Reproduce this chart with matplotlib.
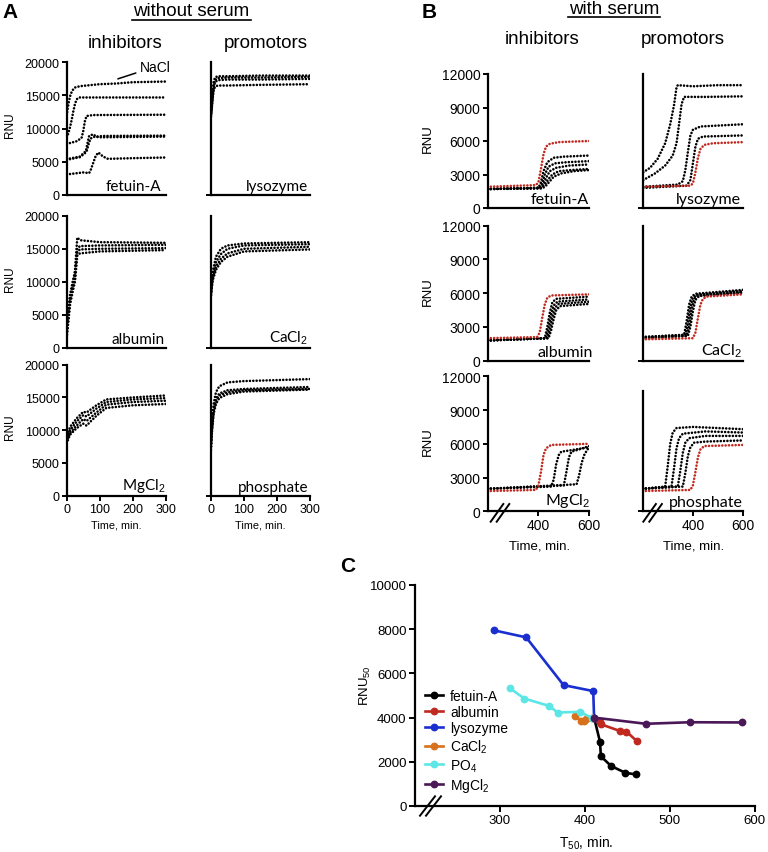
import matplotlib.pyplot as plt
from matplotlib.lines import Line2D

plt.rcParams['font.family'] = ['Liberation Sans', 'DejaVu Sans']
plt.rcParams['mathtext.fontset'] = 'custom'
plt.rcParams['mathtext.rm'] = 'Liberation Sans'
plt.rcParams['mathtext.it'] = 'Liberation Sans:italic'
plt.rcParams['mathtext.bf'] = 'Liberation Sans:bold'

# ---------------- A: without serum (time 0-300 min) ----------------
a_fetuin_t = [
    [0, 3, 7, 12, 18, 25, 40, 60, 100, 150, 200, 300],
    [0, 5, 10, 15, 20, 25, 30, 35, 40, 300],
    [0, 30, 45, 50, 55, 60, 80, 300],
    [0, 40, 58, 63, 68, 80, 90, 110, 300],
    [0, 40, 60, 66, 72, 85, 100, 300],
    [0, 50, 68, 73, 80, 88, 96, 110, 125, 200, 300],
]
a_fetuin_rnu = [
    [12000, 13000, 14200, 15200, 15800, 16200, 16400, 16500, 16700, 16800, 17000, 17100],
    [8700, 9300, 10200, 11300, 12600, 13700, 14400, 14650, 14700, 14700],
    [7700, 8100, 8600, 9600, 11100, 11900, 12050, 12100],
    [5400, 5800, 6600, 7800, 8900, 9150, 8800, 8900, 8950],
    [5300, 5700, 6500, 7600, 8500, 8800, 8700, 8800],
    [3100, 3400, 3300, 3800, 4800, 5900, 6400, 5800, 5450, 5550, 5650],
]

a_lyso_t = [0, 2, 5, 8, 12, 20, 50, 150, 300]
a_lyso_rnu = [
    [12500, 13500, 15500, 17000, 17700, 17900, 17900, 18000, 18000],
    [12000, 13000, 15000, 16500, 17300, 17600, 17700, 17700, 17800],
    [11800, 12800, 14500, 16000, 17000, 17300, 17400, 17400, 17500],
    [12200, 13200, 14800, 15800, 16300, 16500, 16500, 16600, 16700],
]

a_alb_t = [0, 5, 10, 18, 25, 32, 40, 100, 300]
a_alb_rnu = [
    [2500, 5000, 7500, 9500, 11500, 16700, 16300, 16000, 15900],
    [3000, 5500, 8000, 10000, 11500, 15000, 15400, 15500, 15600],
    [2000, 4500, 7000, 9000, 10500, 14500, 14900, 15000, 15100],
    [1500, 4000, 6500, 8500, 10000, 14000, 14300, 14600, 14800],
]

a_ca_t = [0, 5, 15, 30, 50, 100, 300]
a_ca_rnu = [
    [8500, 11500, 13800, 15000, 15500, 15800, 16000],
    [8000, 11000, 13000, 14200, 15000, 15500, 15700],
    [8200, 10500, 12300, 13500, 14300, 15000, 15300],
    [8000, 10200, 11800, 13000, 13800, 14600, 14900],
]

a_mg_t = [0, 10, 30, 50, 60, 90, 120, 200, 300]
a_mg_rnu = [
    [8800, 10500, 11800, 12800, 12700, 13800, 14700, 15000, 15300],
    [8500, 10000, 11300, 12300, 12100, 13300, 14300, 14700, 14900],
    [8300, 9600, 10700, 11700, 11400, 12700, 13900, 14300, 14500],
    [8000, 9300, 10300, 11000, 10700, 12200, 13400, 13800, 14000],
]

a_po4_t = [0, 3, 8, 15, 25, 50, 100, 300]
a_po4_rnu = [
    [7500, 11000, 14000, 15800, 16700, 17300, 17500, 17800],
    [7000, 10000, 13000, 14800, 15600, 16100, 16300, 16600],
    [8000, 10500, 13200, 14500, 15300, 15800, 16100, 16300],
    [7800, 9800, 12500, 14000, 14900, 15500, 15900, 16200],
]

# ---------------- B: with serum (time 200-600 min) ----------------
b_fet_red_t = [200, 390, 400, 410, 420, 430, 445, 480, 600]
b_fet_red_rnu = [1900, 2050, 2300, 3500, 4800, 5500, 5750, 5900, 6000]
b_fet_t = [
    [200, 400, 410, 420, 435, 460, 500, 600],
    [200, 405, 415, 425, 440, 465, 510, 600],
    [200, 410, 420, 430, 445, 470, 520, 600],
    [200, 410, 425, 440, 455, 480, 530, 600],
    [200, 415, 430, 445, 460, 490, 540, 600],
]
b_fet_rnu = [
    [1700, 1800, 2300, 3300, 4100, 4500, 4600, 4700],
    [1700, 1800, 2200, 3000, 3700, 4000, 4100, 4200],
    [1700, 1800, 2100, 2700, 3300, 3600, 3800, 3900],
    [1700, 1800, 2100, 2600, 3000, 3300, 3400, 3500],
    [1700, 1750, 2000, 2400, 2800, 3100, 3300, 3400],
]

b_lys_red_t = [200, 390, 400, 410, 420, 430, 445, 480, 600]
b_lys_red_rnu = [1900, 2000, 2200, 3200, 4500, 5300, 5650, 5800, 5900]
b_lys_t = [
    [203, 230, 260, 290, 310, 325, 335, 340, 400, 500, 600],
    [203, 250, 290, 320, 335, 345, 355, 365, 450, 600],
    [203, 340, 360, 370, 380, 390, 400, 430, 600],
    [203, 375, 390, 400, 410, 420, 440, 600],
]
b_lys_rnu = [
    [3200, 3600, 4400, 5800, 7500, 9200, 10800, 11000, 10900, 11000, 11000],
    [2500, 3100, 3800, 4700, 5800, 7500, 9300, 9950, 9950, 10000],
    [1900, 2100, 2400, 3400, 5000, 6500, 7000, 7300, 7500],
    [1800, 2000, 2500, 4000, 5500, 6200, 6400, 6500],
]

b_alb_red_t = [200, 395, 405, 415, 425, 435, 450, 600]
b_alb_red_rnu = [2000, 2100, 2500, 3800, 5000, 5600, 5800, 5900]
b_alb_t = [
    [200, 425, 435, 445, 455, 470, 600],
    [200, 430, 440, 450, 460, 475, 600],
    [200, 435, 445, 455, 465, 480, 600],
    [200, 440, 450, 460, 470, 485, 600],
]
b_alb_rnu = [
    [1800, 2000, 3000, 4300, 5200, 5500, 5700],
    [1800, 2000, 2900, 4100, 4900, 5250, 5450],
    [1800, 2000, 2800, 3900, 4700, 5050, 5250],
    [1800, 2000, 2700, 3700, 4500, 4850, 5050],
]

b_ca_red_t = [200, 400, 410, 420, 430, 440, 455, 600]
b_ca_red_rnu = [1900, 2000, 2500, 3800, 5000, 5500, 5700, 5900]
b_ca_t = [
    [200, 365, 375, 385, 395, 410, 600],
    [200, 370, 380, 390, 400, 415, 600],
    [200, 375, 385, 395, 405, 420, 600],
    [200, 380, 390, 400, 410, 425, 600],
]
b_ca_rnu = [
    [2100, 2300, 3500, 5000, 5700, 5950, 6300],
    [2100, 2300, 3300, 4800, 5600, 5850, 6200],
    [2000, 2200, 3100, 4600, 5500, 5800, 6100],
    [2000, 2200, 3000, 4400, 5400, 5750, 6050],
]

b_mg_red_t = [200, 390, 400, 410, 420, 430, 450, 600]
b_mg_red_rnu = [1800, 1900, 2300, 3500, 5000, 5600, 5900, 6000]
b_mg_t = [
    [200, 450, 460, 470, 480, 490, 520, 600],
    [200, 500, 510, 520, 530, 560, 600],
    [200, 550, 560, 570, 580, 590, 600],
]
b_mg_rnu = [
    [2000, 2200, 2800, 4200, 5000, 5300, 5400, 5700],
    [2000, 2300, 3500, 4800, 5300, 5500, 5800],
    [2000, 2400, 3200, 4300, 5000, 5400, 5700],
]

b_po4_red_t = [200, 390, 400, 410, 420, 430, 445, 600]
b_po4_red_rnu = [1800, 1900, 2300, 3500, 4800, 5500, 5800, 5900]
b_po4_t = [
    [200, 290, 300, 310, 320, 335, 400, 500, 600],
    [200, 315, 325, 335, 345, 360, 450, 600],
    [200, 340, 350, 360, 370, 385, 450, 600],
    [200, 360, 370, 380, 390, 405, 450, 600],
]
b_po4_rnu = [
    [2000, 2200, 4000, 6000, 7000, 7400, 7500, 7400, 7300],
    [2000, 2200, 3800, 5600, 6500, 6900, 7100, 7000],
    [2000, 2200, 3600, 5200, 6100, 6500, 6700, 6700],
    [2000, 2200, 3400, 4900, 5700, 6100, 6200, 6300],
]

# ---------------- C: T50 vs RNU50 ----------------
c_labels = ['fetuin-A', 'albumin', 'lysozyme', 'CaCl$_2$', 'PO$_4$', 'MgCl$_2$']
c_colors = ['#000000', '#c0291f', '#1a2fd0', '#d8711c', '#5ce6e6', '#4a1757']
fetuin_t50 = [411, 418, 419, 431, 448, 460]
fetuin_rnu50 = [4000, 2900, 2250, 1810, 1500, 1430]
albumin_t50 = [411, 418, 419, 441, 449, 461]
albumin_rnu50 = [4000, 3800, 3700, 3400, 3370, 2950]
lysozyme_t50 = [293, 331, 375, 410, 411]
lysozyme_rnu50 = [7950, 7630, 5470, 5200, 4000]
cacl2_t50 = [389, 396, 399, 402, 408]
cacl2_rnu50 = [4050, 3850, 3850, 3950, 4000]
po4_t50 = [312, 329, 358, 368, 394, 408]
po4_rnu50 = [5320, 4860, 4530, 4230, 4260, 4000]
mgcl2_t50 = [411, 472, 524, 585]
mgcl2_rnu50 = [4000, 3720, 3790, 3780]

# ---------------- drawing ----------------
W, H = 768, 853
fig = plt.figure(figsize=(W / 100, H / 100), dpi=100)

DOT = dict(lw=1.9, ls=(0, (0.01, 1.25)), dash_capstyle='round')
RED = '#c0291f'
LABEL_FONT = ['Lato', 'DejaVu Sans']


def px_ax(l, t, r, b):
    return fig.add_axes([l / W, 1 - b / H, (r - l) / W, (b - t) / H])


def base_style(ax, size):
    for s in ('top', 'right'):
        ax.spines[s].set_visible(False)
    for s in ('left', 'bottom'):
        ax.spines[s].set_linewidth(1.6)
    ax.tick_params(width=1.4, length=3.5, pad=1.5, labelsize=size)


def fig_line(pts, lw=1.4):
    xs = [p[0] / W for p in pts]
    ys = [1 - p[1] / H for p in pts]
    fig.add_artist(Line2D(xs, ys, lw=lw, color='k'))


def fig_text(x, y, s, **kw):
    fig.text(x / W, 1 - y / H, s, **kw)


# ---- panel A ----
a_cols = [(66.7, 165.7), (211, 310)]
a_rows = [(63.3, 196), (216.7, 349), (365.7, 496.7)]
a_panels = [
    [(a_fetuin_t, a_fetuin_rnu, 'fetuin-A', 0.95), (None, a_lyso_rnu, 'lysozyme', 0.98)],
    [(None, a_alb_rnu, 'albumin', 0.99), (None, a_ca_rnu, 'CaCl$_2$', 0.98)],
    [(None, a_mg_rnu, 'MgCl$_2$', 1.0), (None, a_po4_rnu, 'phosphate', 0.98)],
]
a_shared_t = [[None, a_lyso_t], [a_alb_t, a_ca_t], [a_mg_t, a_po4_t]]

for i, (top, bot) in enumerate(a_rows):
    for j, (left, right) in enumerate(a_cols):
        ax = px_ax(left, top, right, bot)
        base_style(ax, 9)
        ts, ys, name, lx = a_panels[i][j]
        for k, y in enumerate(ys):
            t = ts[k] if ts is not None else a_shared_t[i][j]
            ax.plot(t, y, color='k', **DOT)
        ax.set_xlim(0, 300)
        ax.set_ylim(0, 20000)
        if j == 0:
            ax.set_yticks([0, 5000, 10000, 15000, 20000])
        else:
            ax.set_yticks([0])
            ax.set_yticklabels([''])
        if i == 2:
            ax.set_xticks([0, 100, 200, 300])
        else:
            ax.set_xticks([])
        ax.text(lx, 0.015, name, transform=ax.transAxes, ha='right', va='bottom',
                fontsize=11, family=LABEL_FONT)
        if i == 0 and j == 0:
            ax.annotate('NaCl', xy=(155, 17500), xytext=(222, 19350),
                        fontsize=10, ha='left', va='center',
                        arrowprops=dict(arrowstyle='-', lw=1.1, color='k',
                                        shrinkA=1, shrinkB=0))
    fig_text(10.5, (top + bot) / 2 - 4, 'RNU', rotation=90, ha='center', va='center', fontsize=8.5)

for cx in (116, 260.5):
    fig_text(cx, 525, 'Time, min.', ha='center', va='center', fontsize=7.8)

# ---- panel B ----
b_cols = [(487.5, 589.3), (642.5, 743.3)]
b_rows = [(75, 209), (226.7, 361.7), (377.3, 512.3)]
b_panels = [
    [(b_fet_t, b_fet_rnu, b_fet_red_t, b_fet_red_rnu, 'fetuin-A', 1.0),
     (b_lys_t, b_lys_rnu, b_lys_red_t, b_lys_red_rnu, 'lysozyme', 0.98)],
    [(b_alb_t, b_alb_rnu, b_alb_red_t, b_alb_red_rnu, 'albumin', 1.04),
     (b_ca_t, b_ca_rnu, b_ca_red_t, b_ca_red_rnu, 'CaCl$_2$', 0.99)],
    [(b_mg_t, b_mg_rnu, b_mg_red_t, b_mg_red_rnu, 'MgCl$_2$', 1.01),
     (b_po4_t, b_po4_rnu, b_po4_red_t, b_po4_red_rnu, 'phosphate', 0.99)],
]

for i, (top, bot) in enumerate(b_rows):
    for j, (left, right) in enumerate(b_cols):
        ax = px_ax(left, top, right, bot)
        base_style(ax, 10)
        ts, ys, rt, ry, name, lx = b_panels[i][j]
        for t, y in zip(ts, ys):
            ax.plot(t, y, color='k', **DOT)
        ax.plot(rt, ry, color=RED, **DOT)
        ax.set_xlim(200, 600)
        ax.set_ylim(0, 12000)
        if j == 0:
            ax.set_yticks([0, 3000, 6000, 9000, 12000])
        else:
            ax.set_yticks([0])
            ax.set_yticklabels([''])
        if i == 2:
            ax.set_xticks([400, 600])
        else:
            ax.set_xticks([])
        if i == 2 and j == 1:
            ax.spines['left'].set_bounds(0, 10700)
        ax.text(lx, 0.015, name, transform=ax.transAxes, ha='right', va='bottom',
                fontsize=11.5, family=LABEL_FONT)
    fig_text(428, (top + bot) / 2 - 3, 'RNU', rotation=90, ha='center', va='center', fontsize=9.5)

for x0 in (490.7, 643.3):
    fig_line([(x0, 522.7), (x0 + 12.6, 505)])
    fig_line([(x0 + 6, 522.7), (x0 + 18.6, 505)])
for cx in (540, 694):
    fig_text(cx, 547, 'Time, min.', ha='center', va='center', fontsize=9.5)

# ---- panel C ----
axc = px_ax(415, 586, 754.5, 807)
base_style(axc, 9.5)
axc.tick_params(length=4.5)
c_x = [fetuin_t50, albumin_t50, lysozyme_t50, cacl2_t50, po4_t50, mgcl2_t50]
c_y = [fetuin_rnu50, albumin_rnu50, lysozyme_rnu50, cacl2_rnu50, po4_rnu50, mgcl2_rnu50]
for x, y, lab, col in zip(c_x, c_y, c_labels, c_colors):
    axc.plot(x, y, '-o', color=col, lw=1.9, ms=4.6, label=lab, clip_on=False)
axc.set_xlim(200, 600)
axc.set_ylim(0, 10000)
axc.set_xticks([300, 400, 500, 600])
axc.set_yticks([0, 2000, 4000, 6000, 8000, 10000])
axc.legend(loc='upper left', bbox_to_anchor=(0.03, 0.53), frameon=False, fontsize=10,
           borderpad=0, borderaxespad=0, handlelength=1.3, handletextpad=0.5,
           labelspacing=0.16)
fig_line([(420, 816.7), (435, 797.3)])
fig_line([(426, 816.7), (441, 797.3)])
fig_text(365, 686, 'RNU$_{50}$', rotation=90, ha='center', va='center', fontsize=9.5)
fig_text(586, 843, 'T$_{50}$, min.', ha='center', va='center', fontsize=10)

# ---- headings ----
fig_text(2, 12, 'A', fontsize=15, fontweight='bold', ha='left', va='center')
fig_text(422, 12, 'B', fontsize=15, fontweight='bold', ha='left', va='center')
fig_text(340, 567, 'C', fontsize=15, fontweight='bold', ha='left', va='center')

fig_text(191.5, 12, 'without serum', fontsize=13.5, ha='center', va='center')
fig_line([(132, 20.5), (251, 20.5)], lw=1.2)
fig_text(614, 9, 'with serum', fontsize=13.5, ha='center', va='center')
fig_line([(568, 17.5), (660, 17.5)], lw=1.2)
for cx, cy, s in [(125.5, 43, 'inhibitors'), (265.5, 43, 'promotors'),
                  (542, 39, 'inhibitors'), (683, 39, 'promotors')]:
    fig_text(cx, cy, s, fontsize=13.5, ha='center', va='center')

fig.savefig('out.png', dpi=100)
